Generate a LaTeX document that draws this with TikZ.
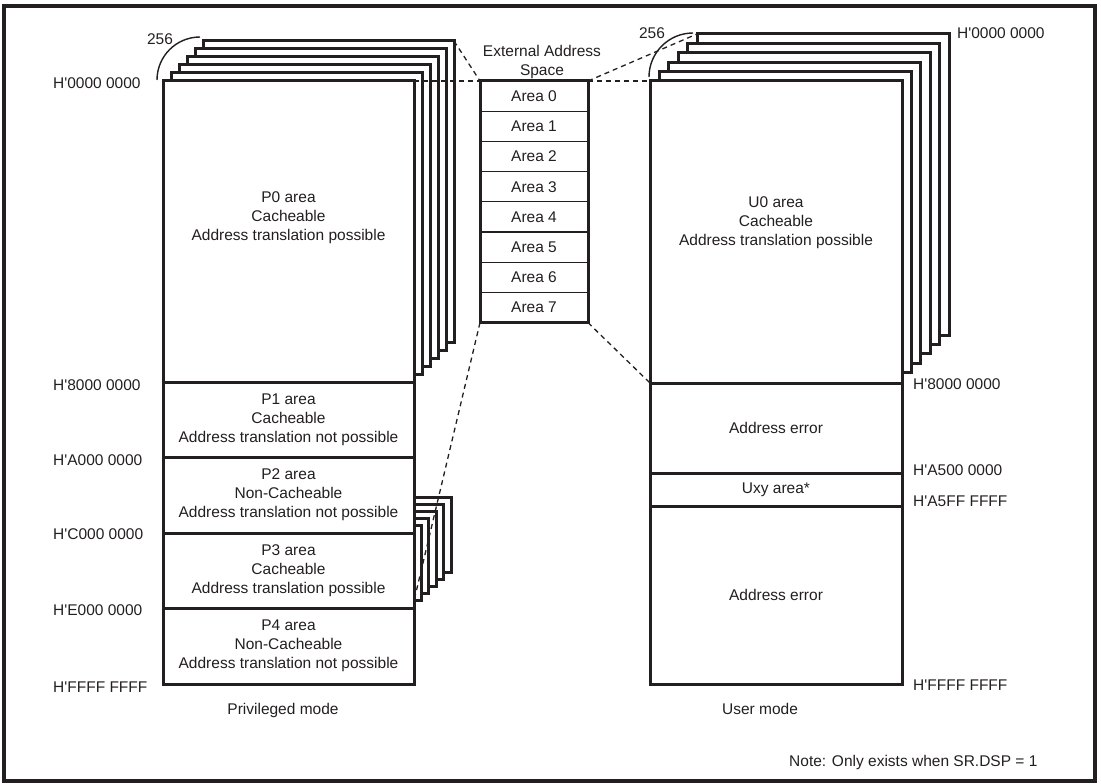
\documentclass[tikz,border=0pt]{standalone}
\usepackage{fontspec}
\setmainfont{Liberation Sans}
\usetikzlibrary{positioning, calc}

\definecolor{inkgray}{RGB}{35,31,32}
\newcommand{\haddr}[1]{H\textquotesingle #1}

\begin{document}
\begin{tikzpicture}[
    x=1pt, y=-1pt,
    lbl/.style={font=\fontsize{15.5}{19}\selectfont, text=inkgray, inner sep=0pt, align=center},
    page/.style={
        draw=inkgray, fill=white, line width=3pt, rectangle, anchor=north west,
        inner sep=0pt, outer sep=0pt, lbl
    },
    priv box/.style={page, minimum width=251pt, minimum height=#1},
    user box/.style={page, minimum width=252pt, minimum height=#1},
    ext cell/.style={
        draw=inkgray, line width=1.3pt, rectangle, anchor=north west,
        minimum width=108pt, minimum height=30.2pt, inner sep=0pt, outer sep=0pt, lbl
    },
    addr/.style={lbl, anchor=west},
    link/.style={draw=inkgray, line width=1.3pt, dash pattern=on 5pt off 4pt},
    count arc/.style={draw=inkgray, line width=1.4pt}
]

% ------------------------------------------------------------------------------
% 0. MARCO
% ------------------------------------------------------------------------------
\useasboundingbox (0,0) rectangle (1101,784);
\draw[inkgray, line width=3.2pt] (4,6) rectangle (1095,781);

% ------------------------------------------------------------------------------
% 1. PRIVILEGED MODE (pila de 256 paginas)
% ------------------------------------------------------------------------------
\foreach \k in {5,...,1} {
    \node[priv box=301pt] (lp\k) at (163+8*\k, 81-8*\k) {};
}
\foreach \k in {5,...,1} {
    \node[priv box=75pt] (p3b\k) at (163+7.4*\k, 533-7.2*\k) {};
}
\node[priv box=301pt] (p0) at (163,81) {};
\node[lbl] (p0txt) at ($(p0.center)+(0,-14)$) {P0 area\\Cacheable\\Address translation possible};
\node[priv box=75pt, below=0pt of p0] (p1) {P1 area\\Cacheable\\Address translation not possible};
\node[priv box=76pt, below=0pt of p1] (p2) {P2 area\\Non-Cacheable\\Address translation not possible};
\node[priv box=75pt, below=0pt of p2] (p3) {P3 area\\Cacheable\\Address translation possible};
\node[priv box=76pt, below=0pt of p3] (p4) {P4 area\\Non-Cacheable\\Address translation not possible};

\foreach \y/\v [count=\n] in {83/0000 0000, 385/8000 0000, 460/A000 0000,
                              534/C000 0000, 610/E000 0000, 687/FFFF FFFF} {
    \node[addr] (la\n) at (53,\y) {\haddr{\v}};
}
\node[lbl] (privlbl) at (283,710) {Privileged mode};

% ------------------------------------------------------------------------------
% 2. EXTERNAL ADDRESS SPACE
% ------------------------------------------------------------------------------
\foreach \i in {0,...,7} {
    \node[ext cell] (ext\i) at (480, 81+30.2*\i) {Area \i};
}
\node[draw=inkgray, line width=3pt, rectangle, anchor=north west, minimum width=108pt,
      minimum height=241.6pt, inner sep=0pt, outer sep=0pt] (ext) at (480,81) {};
\node[lbl] (extlbl) at (542,62) {External Address\\Space};

% ------------------------------------------------------------------------------
% 3. USER MODE
% ------------------------------------------------------------------------------
\foreach \k in {5,...,1} {
    \node[user box=301pt] (up\k) at (650+9.4*\k, 81-9.4*\k) {};
}
\node[user box=302pt] (u0) at (650,81) {};
\node[lbl] (u0txt) at ($(u0.center)+(0,-9)$) {U0 area\\Cacheable\\Address translation possible};
\node[user box=90pt, below=0pt of u0] (uerr1) {Address error};
\node[user box=33pt, below=0pt of uerr1] (uxy) {Uxy area*};
\node[user box=178pt, below=0pt of uxy] (uerr2) {Address error};

\foreach \x/\y/\v [count=\n] in {957/33/0000 0000, 913/384/8000 0000, 913/470/A500 0000,
                                 913/501/A5FF FFFF, 913/685/FFFF FFFF} {
    \node[addr] (ra\n) at (\x,\y) {\haddr{\v}};
}
\node[lbl] (userlbl) at (760,709) {User mode};
\node[addr] (note) at (789,762) {Note: Only exists when SR.DSP = 1};

% ------------------------------------------------------------------------------
% 4. CONTADORES 256
% ------------------------------------------------------------------------------
\draw[count arc] ($(p0.north west)+(-6,-1)$) arc[start angle=180, end angle=90, radius=43pt];
\node[lbl] (lcount) at (160,39) {256};
\draw[count arc] ($(u0.north west)+(-1,-4)$) arc[start angle=180, end angle=90, radius=44pt];
\node[lbl] (rcount) at (652,33) {256};

% ------------------------------------------------------------------------------
% 5. LINEAS DE CORRESPONDENCIA
% ------------------------------------------------------------------------------
\draw[link] (lp5.north east) -- (ext.north west);
\draw[link] (p0.north east) -- (ext.north west);
\draw[link] (ext.north east) -- (u0.north west);
\draw[link] (ext.north east) -- (up5.north west);
\draw[link] (ext.south east) -- (u0.south west);
\draw[link] (ext.south west) -- (p3.east |- p3b1.south);

\end{tikzpicture}
\end{document}
